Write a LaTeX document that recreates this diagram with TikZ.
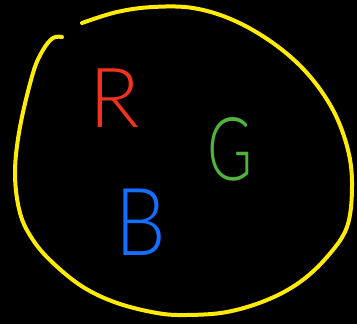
\documentclass[tikz,border=0pt]{standalone}
\usepackage{fontspec}
\newfontfamily\hand{Lato Light}
\begin{document}
\begin{tikzpicture}[x=1pt,y=-1pt,
  loop/.style={draw={rgb,255:red,255;green,236;blue,0},line width=4pt,line cap=round,line join=round},
  letter/.style={inner sep=0pt,anchor=base}]
\fill[black] (0,0) rectangle (357,324);
\useasboundingbox (0,0) rectangle (357,324);
\draw[loop] plot[smooth,tension=0.6] coordinates {
 (62,37) (53,38) (43,50) (33,73) (20,127) (15,173) (20,213) (33,240) (53,263)
 (83,287) (117,303) (157,313) (187,315) (227,312) (267,300) (300,282) (327,257)
 (347,227) (352,187) (348,150) (333,110) (307,73) (273,43) (233,20) (193,8)
 (153,7) (117,12) (82,23)};
\node[letter,font=\hand\fontsize{83}{83}\selectfont,text={rgb,255:red,240;green,50;blue,30}] (r) at (115,127) {R};
\node[letter,font=\hand\fontsize{88}{88}\selectfont,text={rgb,255:red,80;green,180;blue,60}] (g) at (230,180) {\scalebox{0.7}[1]{G}};
\node[letter,font=\hand\fontsize{94}{94}\selectfont,text={rgb,255:red,20;green,110;blue,255}] (b) at (141,255) {\scalebox{0.85}[1]{B}};
\end{tikzpicture}
\end{document}
